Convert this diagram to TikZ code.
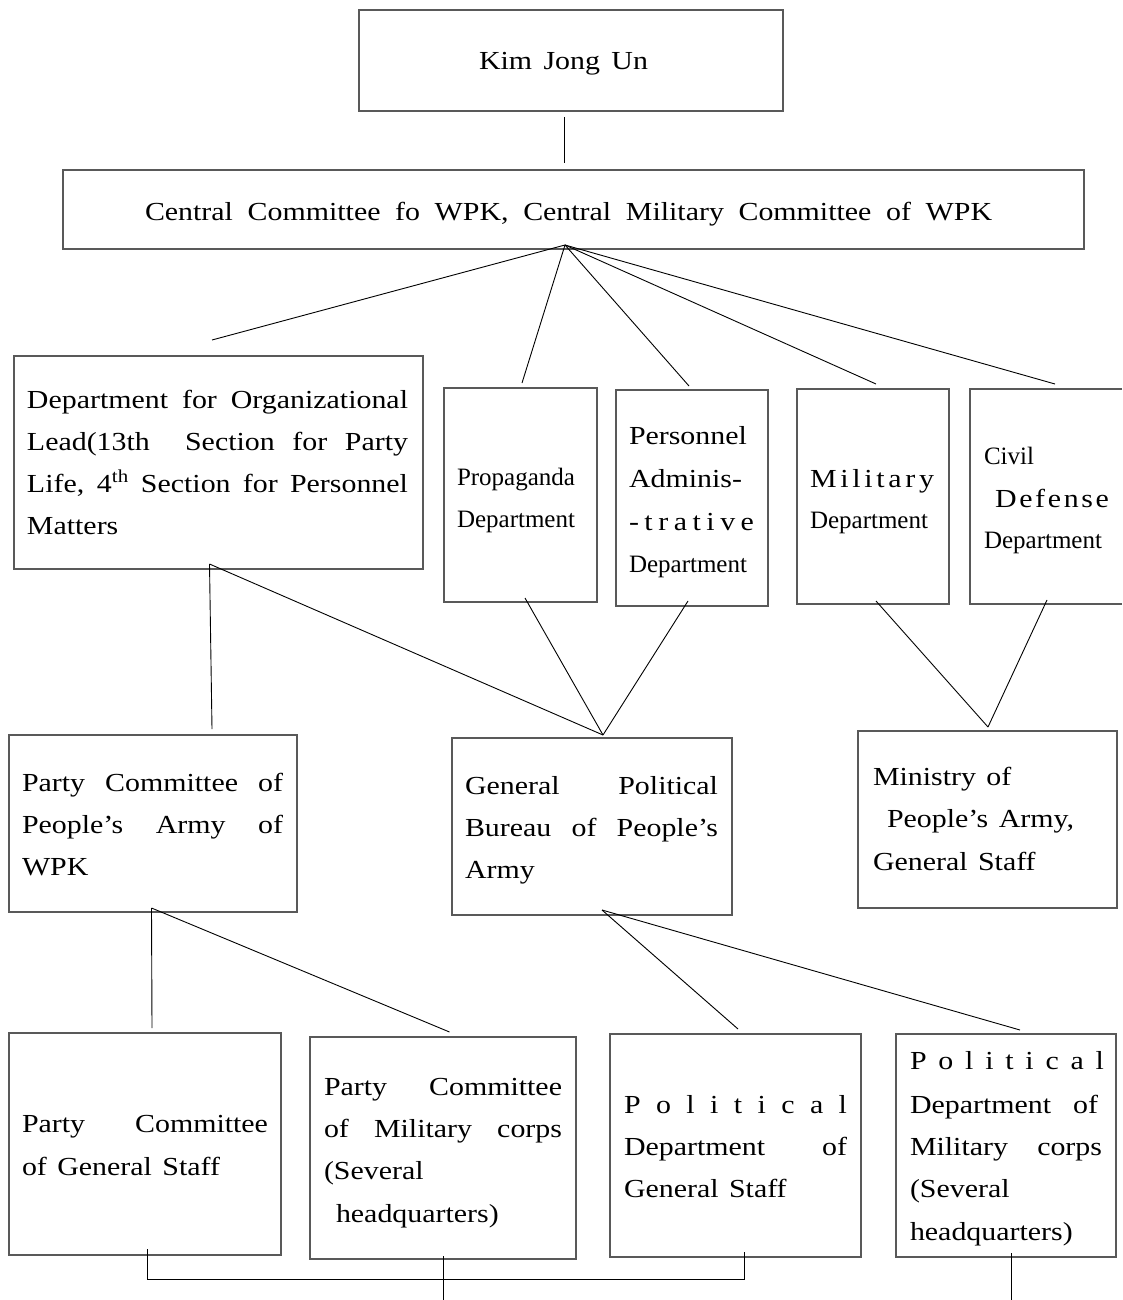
\documentclass[tikz,border=0pt]{standalone}
\usepackage{fontspec}
\setmainfont{Liberation Serif}[FakeStretch=1.15,WordSpace=1.4]
\newfontfamily\condf{Liberation Serif}
\newcommand\jl[2]{\makebox[#1][s]{#2}}
\newcommand\lsw[2]{\makebox[#1][l]{#2}}
\begin{document}
\begin{tikzpicture}[x=1pt,y=-1pt,
  box/.style={draw=black!65,line width=1.4pt,inner sep=0pt,outer sep=0pt},
  conn/.style={draw=black,line width=0.9pt},
  txt/.style={anchor=base west,inner sep=0pt,outer sep=0pt,font=\fontsize{26}{42}\selectfont},
  ctxt/.style={anchor=base west,inner sep=0pt,outer sep=0pt,font=\condf\fontsize{25}{42}\selectfont}]
\useasboundingbox (0,0) rectangle (1122,1300);

% boxes
\node[box,minimum width=424pt,minimum height=101pt] (kim) at (571,60.5) {};
\node[box,minimum width=1021pt,minimum height=79pt] (cen) at (573.5,209.5) {};
\node[box,minimum width=409pt,minimum height=213pt] (org) at (218.5,462.5) {};
\node[box,minimum width=153pt,minimum height=214pt] (prop) at (520.5,495) {};
\node[box,minimum width=152pt,minimum height=216pt] (pers) at (692,498) {};
\node[box,minimum width=152pt,minimum height=215pt] (mil) at (873,496.5) {};
\node[inner sep=0pt,outer sep=0pt,minimum width=152pt,minimum height=215pt] (civ) at (1046,496.5) {};
\draw[box] (civ.north east) -- (civ.north west) -- (civ.south west) -- (civ.south east);
\node[box,minimum width=288pt,minimum height=177pt] (pcpa) at (153,823.5) {};
\node[box,minimum width=280pt,minimum height=177pt] (gpb) at (592,826.5) {};
\node[box,minimum width=259pt,minimum height=177pt] (mpa) at (987.5,819.5) {};
\node[box,minimum width=272pt,minimum height=222pt] (bA) at (145,1144) {};
\node[box,minimum width=266pt,minimum height=222pt] (bB) at (443,1148) {};
\node[box,minimum width=251pt,minimum height=223pt] (bC) at (735.5,1145.5) {};
\node[box,minimum width=220pt,minimum height=223pt] (bD) at (1006,1145.5) {};

% texts
\node[txt] (t1) at (479,70) {\jl{169pt}{Kim Jong Un}};
\node[txt] (t2) at (145,220) {\jl{847pt}{Central Committee fo WPK, Central Military Committee of WPK}};
\node[txt] (t3) at (27,408) {\jl{381pt}{Department for Organizational}};
\node[txt] (t4) at (27,450) {\jl{381pt}{Lead(13th\ \ Section for Party}};
\node[txt] (t5) at (27,492) {\jl{381pt}{Life, 4\textsuperscript{th} Section for Personnel}};
\node[txt] (t6) at (27,534) {Matters};
\node[ctxt] (t7) at (457,485) {Propaganda};
\node[ctxt] (t8) at (457,527) {Department};
\node[txt] (t9) at (629,444) {Personnel};
\node[txt] (t10) at (629,487) {Adminis-};
\node[txt] (t11) at (629,530) {\lsw{125pt}{-\hfill t\hfill r\hfill a\hfill t\hfill i\hfill v\hfill e}};
\node[ctxt] (t12) at (629,572) {Department};
\node[txt] (t13) at (810,487) {\lsw{124pt}{M\hfill i\hfill l\hfill i\hfill t\hfill a\hfill r\hfill y}};
\node[ctxt] (t14) at (810,528) {Department};
\node[ctxt] (t15) at (984,464) {Civil};
\node[txt] (t16) at (995,507) {\lsw{114pt}{D\hfill e\hfill f\hfill e\hfill n\hfill s\hfill e}};
\node[ctxt] (t17) at (984,548) {Department};
\node[txt] (t18) at (22,791) {\jl{261pt}{Party Committee of}};
\node[txt] (t19) at (22,833) {\jl{261pt}{People’s Army of}};
\node[txt] (t20) at (22,875) {WPK};
\node[txt] (t21) at (465,794) {\jl{253pt}{General Political}};
\node[txt] (t22) at (465,836) {\jl{253pt}{Bureau of People’s}};
\node[txt] (t23) at (465,878) {Army};
\node[txt] (t24) at (873,785) {Ministry of};
\node[txt] (t25) at (887,827) {People’s Army,};
\node[txt] (t26) at (873,870) {General Staff};
\node[txt] (t27) at (22,1132) {\jl{246pt}{Party Committee}};
\node[txt] (t28) at (22,1175) {of General Staff};
\node[txt] (t29) at (324,1095) {\jl{238pt}{Party Committee}};
\node[txt] (t30) at (324,1137) {\jl{238pt}{of Military corps}};
\node[txt] (t31) at (324,1179) {(Several};
\node[txt] (t32) at (336,1222) {headquarters)};
\node[txt] (t33) at (624,1113) {\lsw{223pt}{P\hfill o\hfill l\hfill i\hfill t\hfill i\hfill c\hfill a\hfill l}};
\node[txt] (t34) at (624,1155) {\jl{223pt}{Department of}};
\node[txt] (t35) at (624,1197) {General Staff};
\node[txt] (t36) at (910,1069) {\lsw{194pt}{P\hfill o\hfill l\hfill i\hfill t\hfill i\hfill c\hfill a\hfill l}};
\node[txt] (t37) at (910,1113) {\jl{188pt}{Department of}};
\node[txt] (t38) at (910,1155) {\jl{192pt}{Military corps}};
\node[txt] (t39) at (910,1197) {(Several};
\node[txt] (t40) at (910,1240) {headquarters)};

% connector points
\coordinate (k1) at (564,117);
\coordinate (k2) at (564,163);
\coordinate (hub) at (565,245);
\coordinate (fo) at (212,340);
\coordinate (fp) at (522,383);
\coordinate (fpe) at (689,386);
\coordinate (fm) at (876,384);
\coordinate (fc) at (1055,384);
\coordinate (orgout) at (209.5,564);
\coordinate (pcin) at (212,729);
\coordinate (gin) at (603,735);
\coordinate (propout) at (525,598);
\coordinate (persout) at (688,601);
\coordinate (milout) at (876,601);
\coordinate (civout) at (1047,600);
\coordinate (minin) at (988,727);
\coordinate (pcout) at (151.5,908);
\coordinate (bAin) at (152,1028);
\coordinate (bBin) at (449.5,1032);
\coordinate (gout) at (602,910);
\coordinate (bCin) at (738,1029);
\coordinate (bDin) at (1020,1030);
\coordinate (bAout) at (147,1249);
\coordinate (bCout) at (744,1252);
\coordinate (bar) at (0,1279);
\coordinate (bBout) at (443.5,1256);
\coordinate (bBend) at (443.5,1300);
\coordinate (bDout) at (1011,1253);
\coordinate (bDend) at (1011,1300);

% connectors
\draw[conn] (k1) -- (k2);
\draw[conn] (hub) -- (fo);
\draw[conn] (hub) -- (fp);
\draw[conn] (hub) -- (fpe);
\draw[conn] (hub) -- (fm);
\draw[conn] (hub) -- (fc);
\draw[conn] (orgout) -- (pcin);
\draw[conn] (orgout) -- (gin);
\draw[conn] (propout) -- (gin);
\draw[conn] (persout) -- (gin);
\draw[conn] (milout) -- (minin);
\draw[conn] (civout) -- (minin);
\draw[conn] (pcout) -- (bAin);
\draw[conn] (pcout) -- (bBin);
\draw[conn] (gout) -- (bCin);
\draw[conn] (gout) -- (bDin);
\draw[conn] (bAout) -- (bAout |- bar) -- (bCout |- bar) -- (bCout);
\draw[conn] (bBout) -- (bBend);
\draw[conn] (bDout) -- (bDend);
\end{tikzpicture}
\end{document}
